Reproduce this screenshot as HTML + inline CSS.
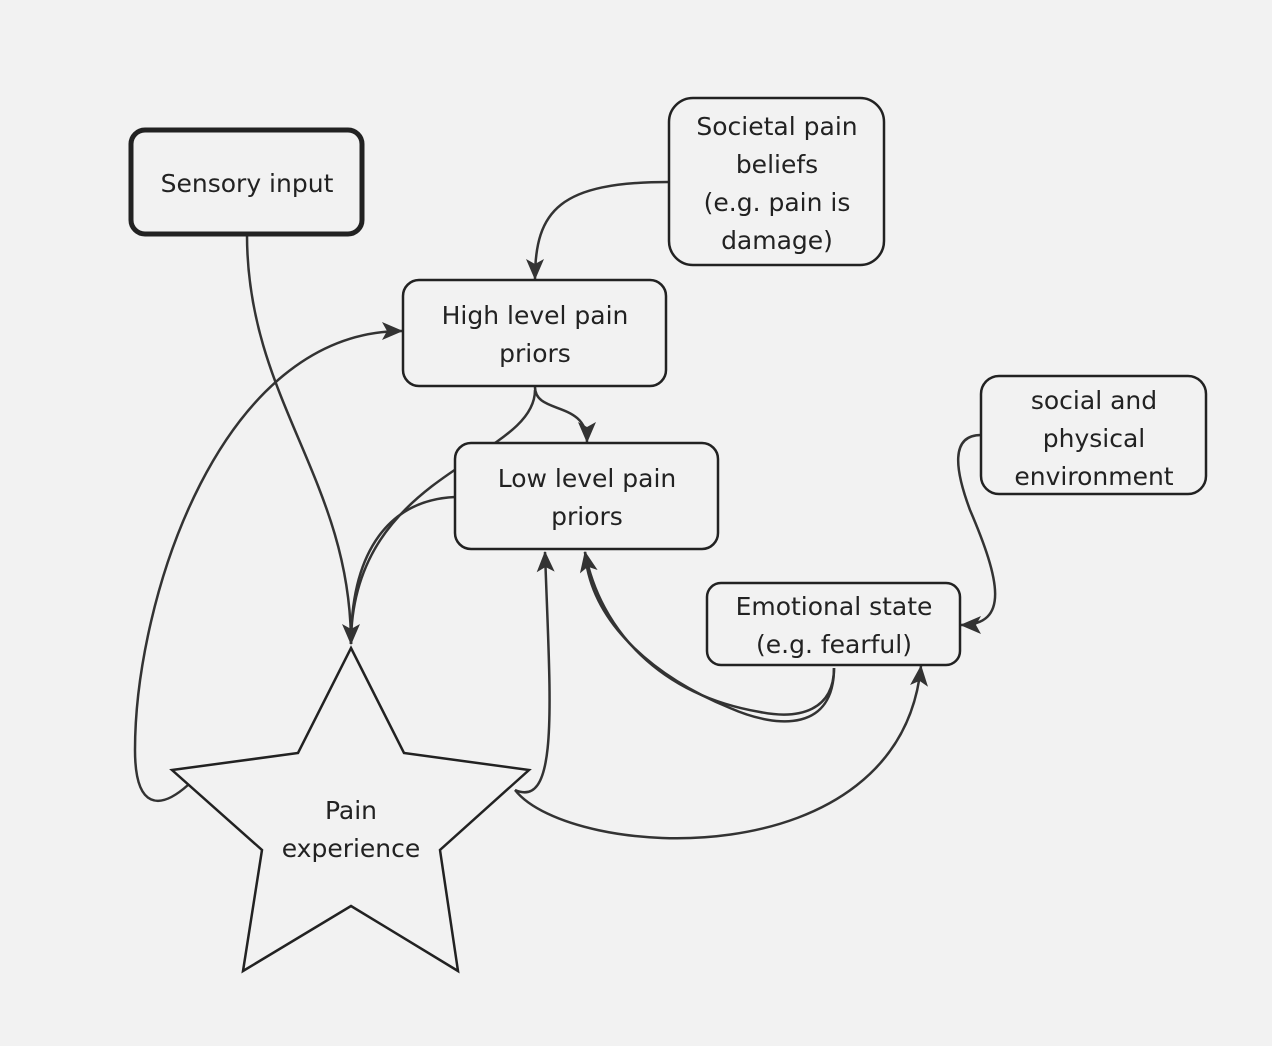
<!DOCTYPE html>
<html><head><meta charset="utf-8"><style>
html,body{margin:0;padding:0;background:#f2f2f2;}
svg{display:block}
text{font-family:"DejaVu Sans","Liberation Sans",sans-serif;font-size:25px;fill:#222;text-anchor:middle}
</style></head><body>
<svg width="1272" height="1046" viewBox="0 0 1272 1046">
<defs>
<marker id="a" viewBox="0 0 24 24" refX="22" refY="12" markerWidth="24" markerHeight="24" markerUnits="userSpaceOnUse" orient="auto">
<path d="M2 3 L23 12 L2 21 L7 12 Z" fill="#333"/>
</marker>
</defs>
<rect width="1272" height="1046" fill="#f2f2f2"/>
<g fill="none" stroke="#333" stroke-width="2.5">
<path d="M247 235 C247 400, 351 480, 351 644" marker-end="url(#a)"/>
<path d="M669 182 C560 182, 535 210, 535 279" marker-end="url(#a)"/>
<path d="M188 785 C160 810, 135 810, 135 750 C135 600, 220 331, 402 331" marker-end="url(#a)"/>
<path d="M535 387 C535 415, 587 400, 587 442" marker-end="url(#a)"/>
<path d="M535 390 C535 460, 351 470, 351 644"/>
<path d="M455 497 C390 500, 351 550, 351 644"/>
<path d="M515 790 C560 810, 550 700, 545 552" marker-end="url(#a)"/>
<path d="M834 668 C834 710, 800 720, 760 712 C660 695, 600 630, 585 552" marker-end="url(#a)"/>
<path d="M834 668 C834 730, 780 730, 730 708 C650 675, 590 620, 585 552"/>
<path d="M515 790 C570 860, 900 880, 921 666" marker-end="url(#a)"/>
<path d="M981 435 C950 435, 955 470, 970 510 C1000 580, 1010 625, 961 625" marker-end="url(#a)"/>
</g>
<g fill="#f2f2f2" stroke="#222" stroke-width="2.5">
<rect x="131" y="130" width="231" height="104" rx="14" stroke-width="5"/>
<rect x="669" y="98" width="215" height="167" rx="24"/>
<rect x="403" y="280" width="263" height="106" rx="16"/>
<rect x="455" y="443" width="263" height="106" rx="16"/>
<rect x="981" y="376" width="225" height="118" rx="18"/>
<rect x="707" y="583" width="253" height="82" rx="14"/>
<polygon points="351,648 404,753 529,770 440,850 458,971 351,906 243,971 262,850 172,770 298,753"/>
</g>
<text x="247" y="192">Sensory input</text>
<text x="777" y="135">Societal pain</text>
<text x="777" y="173">beliefs</text>
<text x="777" y="211">(e.g. pain is</text>
<text x="777" y="249">damage)</text>
<text x="535" y="324">High level pain</text>
<text x="535" y="362">priors</text>
<text x="587" y="487">Low level pain</text>
<text x="587" y="525">priors</text>
<text x="1094" y="409">social and</text>
<text x="1094" y="447">physical</text>
<text x="1094" y="485">environment</text>
<text x="834" y="615">Emotional state</text>
<text x="834" y="653">(e.g. fearful)</text>
<text x="351" y="819">Pain</text>
<text x="351" y="857">experience</text>
</svg>
</body></html>
